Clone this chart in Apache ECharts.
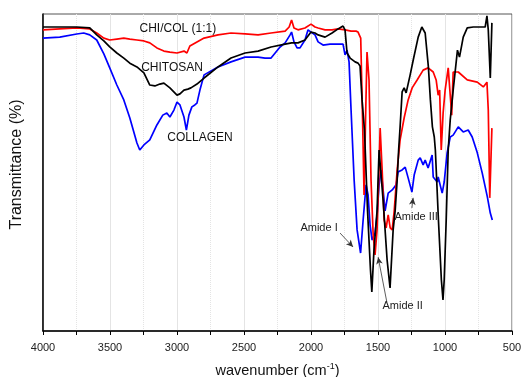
<!DOCTYPE html>
<html>
<head>
<meta charset="utf-8">
<script src="https://cdn.jsdelivr.net/npm/echarts@6/dist/echarts.min.js"></script>
<style>
html,body{margin:0;padding:0;background:#fff;}
#c{width:523px;height:377px;}
</style>
</head>
<body>
<div id="c"></div>
<script>
// ---- data (wavenumber cm-1, transmittance arbitrary %) ----
const xTicks = [500, 1000, 1500, 2000, 2500, 3000, 3500, 4000];

const chitosanWn = [4000,3875,3748,3651,3599,3546,3502,3449,3397,3352,3299,3247,3203,3165,3128,3098,3053,3000,2978,2948,2919,2896,2851,2798,2694,2597,2492,2395,2298,2193,2145,2097,2045,2000,1970,1947,1895,1843,1798,1761,1746,1731,1708,1671,1649,1634,1619,1601,1578,1556,1546,1530,1507,1492,1462,1432,1410,1387,1372,1357,1346,1335,1320,1305,1290,1260,1237,1200,1173,1148,1124,1109,1094,1080,1072,1049,1027,1015,1006,991,976,961,939,907,892,875,864,834,789,700,687,677,662,650];
const chitosanT  = [95.9,95.9,95.9,95.6,93.4,91.5,89.6,87.7,86.1,84.5,83.3,81.4,77.6,77.3,77.9,78.2,76.7,74.4,74.8,76.0,76.3,76.7,77.9,79.8,83.3,86.1,87.7,88.3,89.6,90.5,90.9,90.9,91.8,94.3,94.0,93.4,92.7,94.0,95.3,96.2,95.0,87.7,86.1,84.9,84.5,83.6,72.9,63.4,37.9,19.2,12.3,25.6,37.9,57.1,41.3,22.4,13.6,31.9,37.9,47.6,57.1,64.4,75.4,76.7,75.1,80.8,85.5,92.7,95.9,94.0,83.3,72.9,64.4,61.2,57.1,35.0,16.1,9.8,16.1,35.0,57.1,66.6,76.0,88.6,86.4,90.2,92.7,95.6,95.9,95.9,99.4,95.0,79.8,97.2];

const blendWn = [4000,3875,3748,3651,3599,3546,3502,3449,3397,3352,3299,3247,3203,3150,3098,3053,3000,2948,2926,2904,2851,2798,2694,2597,2492,2395,2298,2193,2163,2145,2127,2097,2045,2000,1970,1947,1895,1843,1798,1746,1701,1664,1649,1629,1615,1604,1593,1582,1567,1552,1536,1522,1507,1495,1484,1469,1454,1439,1424,1409,1394,1379,1357,1335,1305,1275,1245,1208,1163,1126,1088,1066,1051,1040,1028,1014,999,976,961,950,939,901,834,759,714,687,677,666,650];
const blendT  = [95.0,95.3,95.6,95.3,94.0,92.4,91.8,92.1,92.4,92.1,91.8,91.5,90.9,89.3,88.3,88.0,87.7,88.3,87.7,89.9,91.2,92.4,93.4,94.0,93.7,93.4,94.0,94.6,95.9,98.1,95.6,95.0,95.6,96.8,95.9,95.6,95.0,95.0,95.3,95.0,94.6,94.6,94.3,92.4,66.6,42.9,66.6,88.0,79.2,47.6,30.3,24.0,31.9,47.6,64.0,50.8,35.0,32.5,36.6,32.5,31.9,37.9,50.8,60.3,67.2,72.9,76.7,79.2,82.3,83.0,81.7,79.2,74.4,76.0,57.1,68.8,76.0,83.0,74.4,68.1,81.7,81.7,79.2,78.5,77.0,78.5,69.7,42.0,64.0];

const collagenWn = [4000,3875,3748,3696,3651,3599,3546,3502,3449,3397,3352,3299,3278,3247,3203,3150,3106,3076,3053,3023,3000,2978,2948,2930,2911,2889,2867,2851,2829,2798,2694,2597,2492,2395,2343,2298,2231,2193,2156,2145,2127,2104,2082,2045,2022,2000,1970,1947,1910,1858,1798,1761,1746,1731,1716,1701,1678,1656,1630,1611,1589,1574,1559,1544,1522,1507,1492,1477,1462,1447,1424,1394,1365,1350,1320,1297,1275,1247,1230,1200,1185,1163,1148,1126,1096,1088,1058,1051,1021,1006,984,961,939,901,864,827,797,759,722,684,662,647];
const collagenT  = [92.4,92.7,93.7,94.0,93.4,91.8,87.4,83.0,77.6,72.9,67.2,59.3,57.1,58.7,60.3,65.0,68.1,68.8,67.5,69.7,72.2,71.3,67.5,63.4,68.1,70.7,71.3,71.9,76.0,80.8,83.3,84.9,86.4,86.4,86.1,86.1,89.6,90.9,93.4,94.3,91.2,89.3,89.3,91.8,95.0,94.3,93.4,91.2,90.2,90.5,90.5,90.5,87.1,88.6,84.9,69.7,47.6,31.9,24.6,35.0,46.1,42.9,33.4,28.7,30.9,36.6,46.1,50.8,44.5,37.9,43.5,44.5,46.1,50.2,50.8,51.7,48.3,43.8,49.2,53.9,54.6,52.4,53.9,51.4,55.5,48.6,47.0,48.6,43.5,47.0,56.2,61.2,61.8,64.4,62.8,63.4,61.2,56.2,49.8,42.3,37.2,35.0];

// annotation anchors in data space [wavenumber, T]
const seriesLabels = [
  {text: 'CHI/COL (1:1)', at: [2994, 95.3]},
  {text: 'CHITOSAN', at: [3037, 83.0]},
  {text: 'COLLAGEN', at: [2828, 60.9]}
];
const bandLabels = [
  {text: 'Amide I',   at: [1940, 32.5], from: [1783, 30.9], to: [1686, 26.5]},
  {text: 'Amide II',  at: [1316, 7.9],  from: [1434, 9.1],  to: [1499, 23.3]},
  {text: 'Amide III', at: [1215, 36.0], from: [1247, 38.8], to: [1238, 42.0]}
];

function pairs(w, t) { return w.map((v, i) => [v, t[i]]); }

const chart = echarts.init(document.getElementById('c'), null, {renderer: 'canvas'});
const FONT = '"Liberation Sans", Arial, sans-serif';

const option = {
  animation: false,
  backgroundColor: '#fff',
  textStyle: {fontFamily: FONT},
  grid: {left: 43, right: 11, top: 14, bottom: 46, show: true, borderColor: '#555', borderWidth: 1,
         containLabel: false, outerBoundsMode: 'none'},
  xAxis: {
    type: 'value', inverse: true, min: 500, max: 4000, interval: 500,
    name: 'wavenumber (cm{sup|-1})', nameLocation: 'middle', nameGap: 31,
    nameTextStyle: {fontSize: 14.5, color: '#111', fontFamily: FONT,
      rich: {sup: {fontSize: 9, verticalAlign: 'top', color: '#111', fontFamily: FONT, padding: [0,0,8,0]}}},
    axisLine: {show: true, lineStyle: {color: '#000', width: 1.5}},
    axisTick: {show: true, inside: false, length: 4, lineStyle: {color: '#000', width: 1}},
    minorTick: {show: true, splitNumber: 2, length: 4, lineStyle: {color: '#000', width: 1}},
    splitLine: {show: true, lineStyle: {color: '#e4e4e4', width: 1}},
    minorSplitLine: {show: true, lineStyle: {color: '#e4e4e4', width: 1, type: 'dotted'}},
    axisLabel: {color: '#222', fontSize: 11, margin: 11, fontFamily: FONT,
      formatter: v => xTicks.includes(v) ? String(v) : ''}
  },
  yAxis: {
    type: 'value', min: 0, max: 100,
    name: 'Transmittance (%)', nameLocation: 'middle', nameGap: 18,
    nameTextStyle: {fontSize: 16, color: '#111', fontFamily: FONT, padding: [0, 0, 0, 16]},
    axisLine: {show: true, lineStyle: {color: '#000', width: 1.5}},
    axisTick: {show: false}, axisLabel: {show: false}, splitLine: {show: false}
  },
  series: [
    {name: 'CHITOSAN', type: 'line', data: pairs(chitosanWn, chitosanT), showSymbol: false, symbol: 'none',
     lineStyle: {color: '#000', width: 1.7}, z: 3,
     markLine: {silent: true, symbol: ['none', 'arrow'], symbolSize: [5, 7], animation: false,
       label: {show: false},
       lineStyle: {color: '#333', width: 0.8, type: 'solid'},
       data: bandLabels.map(b => [{coord: b.from}, {coord: b.to}])}},
    {name: 'CHI/COL (1:1)', type: 'line', data: pairs(blendWn, blendT), showSymbol: false, symbol: 'none',
     lineStyle: {color: '#ff0000', width: 1.7}, z: 2},
    {name: 'COLLAGEN', type: 'line', data: pairs(collagenWn, collagenT), showSymbol: false, symbol: 'none',
     lineStyle: {color: '#0000ff', width: 1.7}, z: 1}
  ]
};
chart.setOption(option);

const g = [];
seriesLabels.forEach(l => {
  const p = chart.convertToPixel({gridIndex: 0}, l.at);
  g.push({type: 'text', x: p[0], y: p[1], z: 10,
    style: {text: l.text, fontSize: 12, fontFamily: FONT, fill: '#111', align: 'center', verticalAlign: 'middle'}});
});
bandLabels.forEach(l => {
  const p = chart.convertToPixel({gridIndex: 0}, l.at);
  g.push({type: 'text', x: p[0], y: p[1], z: 10,
    style: {text: l.text, fontSize: 11, fontFamily: FONT, fill: '#222', align: 'center', verticalAlign: 'middle'}});
});
chart.setOption({graphic: g});
</script>
</body>
</html>
